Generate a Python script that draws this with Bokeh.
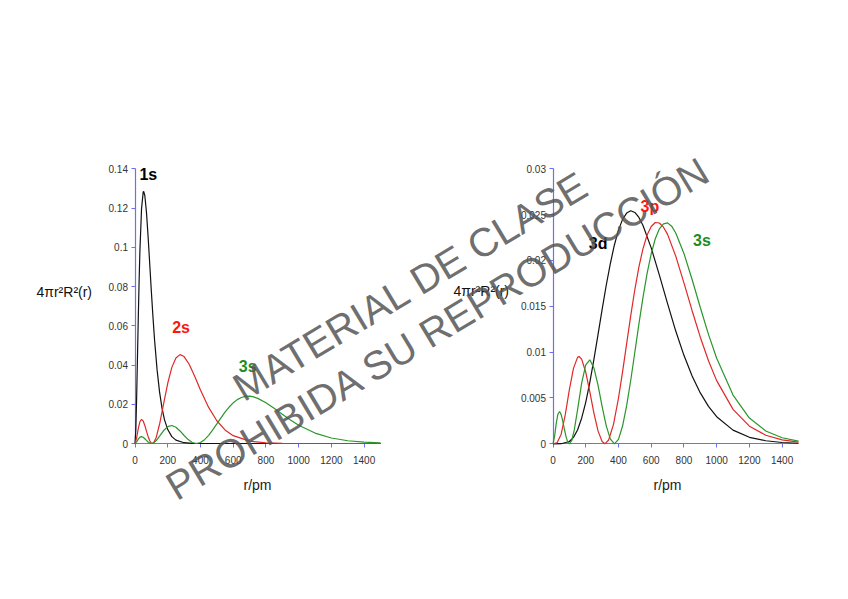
from bokeh.plotting import figure
from bokeh.models import Range1d, Label, FixedTicker, LinearAxis
from bokeh.embed import file_html
from bokeh.resources import INLINE
import math

# ---------------- data ----------------
r_1s = [0, 5, 10, 15, 20, 25, 30, 40, 50, 53, 60, 70, 80, 90, 100, 110, 120, 135, 150,
        165, 180, 200, 225, 250, 300, 350, 400, 500, 1500]
v_1s = [0, 0.0070, 0.0233, 0.0433, 0.0637, 0.0824, 0.0983, 0.1197, 0.1281, 0.1285, 0.1264,
        0.1179, 0.1055, 0.0915, 0.0774, 0.0642, 0.0523, 0.0375, 0.0263, 0.0180, 0.0122,
        0.0071, 0.0035, 0.0017, 0.0004, 0.0001, 0.0, 0.0, 0.0]

r_2s = [0, 10, 20, 30, 40, 50, 60, 70, 80, 90, 100, 106, 115, 130, 150, 175, 200, 225, 250,
        275, 300, 330, 360, 400, 450, 500, 550, 600, 700, 800, 900, 1000, 1500]
v_2s = [0, 0.0029, 0.0076, 0.0111, 0.0123, 0.0115, 0.0092, 0.0063, 0.0036, 0.0014, 0.0002,
        0.0, 0.0005, 0.0032, 0.0098, 0.0203, 0.0307, 0.0388, 0.0436, 0.0453, 0.0443, 0.0405,
        0.0352, 0.0273, 0.0184, 0.0116, 0.0069, 0.0040, 0.0012, 0.0003, 0.0001, 0.0, 0.0]

r_3s = [0, 10, 20, 30, 40, 50, 60, 70, 80, 90, 100, 115, 130, 150, 175, 200, 225, 250, 275,
        300, 325, 350, 375, 400, 425, 450, 475, 500, 525, 550, 575, 600, 625, 650, 675, 700,
        725, 750, 800, 850, 900, 950, 1000, 1100, 1200, 1300, 1400, 1500]
v_3s = [0, 0.00085, 0.00225, 0.00323, 0.00352, 0.00318, 0.00244, 0.00156, 0.00076, 0.00021,
        0.0, 0.00038, 0.00151, 0.00371, 0.00661, 0.00862, 0.00916, 0.00828, 0.00639, 0.00409,
        0.00199, 0.00053, 0.0, 0.00049, 0.00194, 0.00416, 0.00693, 0.00999, 0.01309, 0.01601,
        0.01860, 0.02073, 0.02237, 0.02345, 0.02400, 0.02410, 0.02374, 0.02300, 0.02077,
        0.01792, 0.01487, 0.01194, 0.00934, 0.00532, 0.00281, 0.00140, 0.00066, 0.00030]

r_3p = [0, 25, 50, 75, 100, 125, 150, 159, 175, 200, 225, 250, 275, 300, 317, 340, 370, 400,
        425, 450, 475, 500, 525, 550, 575, 600, 625, 650, 675, 700, 750, 800, 850, 900, 950,
        1000, 1100, 1200, 1300, 1400, 1500]
v_3p = [0, 0.00011, 0.00105, 0.00318, 0.00590, 0.00823, 0.00943, 0.00952, 0.00923, 0.00781,
        0.00566, 0.00335, 0.00141, 0.00025, 0.0, 0.00041, 0.00215, 0.00497, 0.00785, 0.01093,
        0.01399, 0.01683, 0.01931, 0.02130, 0.02278, 0.02370, 0.02414, 0.02409, 0.02363,
        0.02285, 0.02047, 0.01756, 0.01452, 0.01163, 0.00906, 0.00689, 0.00376, 0.00192,
        0.00093, 0.00043, 0.00019]

r_3d = [0, 50, 100, 125, 150, 175, 200, 225, 250, 275, 300, 325, 350, 375, 400, 425, 450,
        475, 500, 525, 550, 600, 650, 700, 750, 800, 850, 900, 950, 1000, 1100, 1200, 1300,
        1400, 1500]
v_3d = [0, 0.00001, 0.00025, 0.00070, 0.00151, 0.00279, 0.00453, 0.00671, 0.00921, 0.01190,
        0.01464, 0.01727, 0.01964, 0.02169, 0.02331, 0.02448, 0.02517, 0.02542, 0.02524,
        0.02469, 0.02381, 0.02137, 0.01840, 0.01530, 0.01230, 0.00965, 0.00740, 0.00555,
        0.00408, 0.00296, 0.00149, 0.00071, 0.00033, 0.00014, 0.00006]

x_ticks = [0, 200, 400, 600, 800, 1000, 1200, 1400]
x_tick_labels = ["0", "200", "400", "600", "800", "1000", "1200", "1400"]
y_ticks_left = [0, 0.02, 0.04, 0.06, 0.08, 0.1, 0.12, 0.14]
y_labels_left = ["0", "0.02", "0.04", "0.06", "0.08", "0.1", "0.12", "0.14"]
y_ticks_right = [0, 0.005, 0.01, 0.015, 0.02, 0.025, 0.03]
y_labels_right = ["0", "0.005", "0.01", "0.015", "0.02", "0.025", "0.03"]
x_max = 1500
y_max_left = 0.14
y_max_right = 0.03

y_title = "4πr²R²(r)"
x_title = "r/pm"
left_series_labels = [("1s", 27, 0.1370), ("2s", 227, 0.0590), ("3s", 634, 0.0390)]
right_series_labels = [("3d", 219, 0.0219), ("3p", 535, 0.0259), ("3s", 856, 0.0222)]
watermark = ["MATERIAL DE CLASE", "PROHIBIDA SU REPRODUCCIÓN"]

# ---------------- layout / styles (canvas pixels, origin top-left) ----------------
W, H = 848, 599
LEFT_BOX = (134.5, 380.0, 443.0, 168.3)    # x of 0, x of x_max, y of 0, y of y_max
RIGHT_BOX = (552.5, 798.0, 443.3, 168.3)
FONT = "Liberation Sans"
AXIS_COLOR = "#6f6ff0"
BLACK = "#111111"
RED = "#e02828"
GREEN = "#2a962a"
LBL_COLORS = {"1s": "#000000", "2s": "#ff1414", "3s": "#1e8c1e", "3d": "#000000", "3p": "#ff1414"}
WM_POS = [(236, 390), (169, 489)]
YT_POS = [(36, 291), (453, 290)]
XT_POS = [(257, 484), (667, 484)]


def span(p0, p1, v0, v1, total):
    s = (v1 - v0) / (p1 - p0)
    return v0 + (0 - p0) * s, v0 + (total - p0) * s


p = figure(width=W, height=H, x_range=Range1d(0, W), y_range=Range1d(H, 0),
           x_axis_location=None, y_axis_location=None, min_border=0,
           output_backend="svg", toolbar_location=None)
p.outline_line_color = None
p.xgrid.visible = False
p.ygrid.visible = False
p.background_fill_color = "white"
p.border_fill_color = "white"

ranges_x, ranges_y = {}, {}
for name, box, ymax in (("L", LEFT_BOX, y_max_left), ("R", RIGHT_BOX, y_max_right)):
    x0, x1, y0, y1 = box
    xs, xe = span(x0, x1, 0, x_max, W)
    ranges_x["x" + name] = Range1d(xs, xe)
    ys_top, ys_bot = span(y0, y1, 0, ymax, 0)[0], span(y0, y1, 0, ymax, H)[1]
    ranges_y["y" + name] = Range1d(ys_bot, ys_top)
p.extra_x_ranges = ranges_x
p.extra_y_ranges = ranges_y


def style_axis(ax):
    ax.axis_line_color = AXIS_COLOR
    ax.axis_line_width = 1.2
    ax.major_tick_line_color = AXIS_COLOR
    ax.major_tick_in = 0
    ax.major_tick_out = 4
    ax.minor_tick_line_color = None
    ax.major_label_text_font = FONT
    ax.major_label_text_font_size = "10px"
    ax.major_label_text_color = "#333333"
    ax.level = "underlay"


for name, ymax, yticks, ylabels in (("L", y_max_left, y_ticks_left, y_labels_left),
                                    ("R", y_max_right, y_ticks_right, y_labels_right)):
    xa = LinearAxis(x_range_name="x" + name, y_range_name="y" + name, fixed_location=0,
                    bounds=(0, x_max), ticker=FixedTicker(ticks=x_ticks),
                    major_label_overrides=dict(zip(x_ticks, x_tick_labels)))
    style_axis(xa)
    xa.major_label_standoff = 8
    p.add_layout(xa, "below")
    ya = LinearAxis(x_range_name="x" + name, y_range_name="y" + name, fixed_location=0,
                    bounds=(0, ymax), ticker=FixedTicker(ticks=yticks),
                    major_label_overrides=dict(zip(yticks, ylabels)))
    style_axis(ya)
    ya.major_label_standoff = 3
    p.add_layout(ya, "left")

# curves
for rr, vv, col, nm in ((r_1s, v_1s, BLACK, "L"), (r_2s, v_2s, RED, "L"), (r_3s, v_3s, GREEN, "L"),
                        (r_3d, v_3d, BLACK, "R"), (r_3p, v_3p, RED, "R"), (r_3s, v_3s, GREEN, "R")):
    p.line(rr, vv, line_color=col, line_width=1.2, x_range_name="x" + nm, y_range_name="y" + nm)

# series labels
for nm, labels in (("L", left_series_labels), ("R", right_series_labels)):
    for t, x, y in labels:
        p.add_layout(Label(x=x, y=y, text=t, x_range_name="x" + nm, y_range_name="y" + nm,
                           text_color=LBL_COLORS[t], text_font=FONT, text_font_size="16px",
                           text_font_style="bold", text_baseline="alphabetic"))

# axis titles
for (x, y) in YT_POS:
    p.add_layout(Label(x=x, y=y, text=y_title, text_color="#111111", text_font=FONT,
                       text_font_size="14px", text_baseline="alphabetic"))
for (x, y) in XT_POS:
    p.add_layout(Label(x=x, y=y, text=x_title, text_color="#222222", text_font=FONT,
                       text_font_size="14px", text_baseline="alphabetic", text_align="center"))

# watermark
for txt, (x, y) in zip(watermark, WM_POS):
    p.add_layout(Label(x=x, y=y, text=txt, angle=math.radians(31),
                       text_color="#555555", text_alpha=0.85, text_font=FONT,
                       text_font_size="40px", text_baseline="alphabetic", text_align="left"))

open("out.html", "w").write(file_html(p, INLINE))
